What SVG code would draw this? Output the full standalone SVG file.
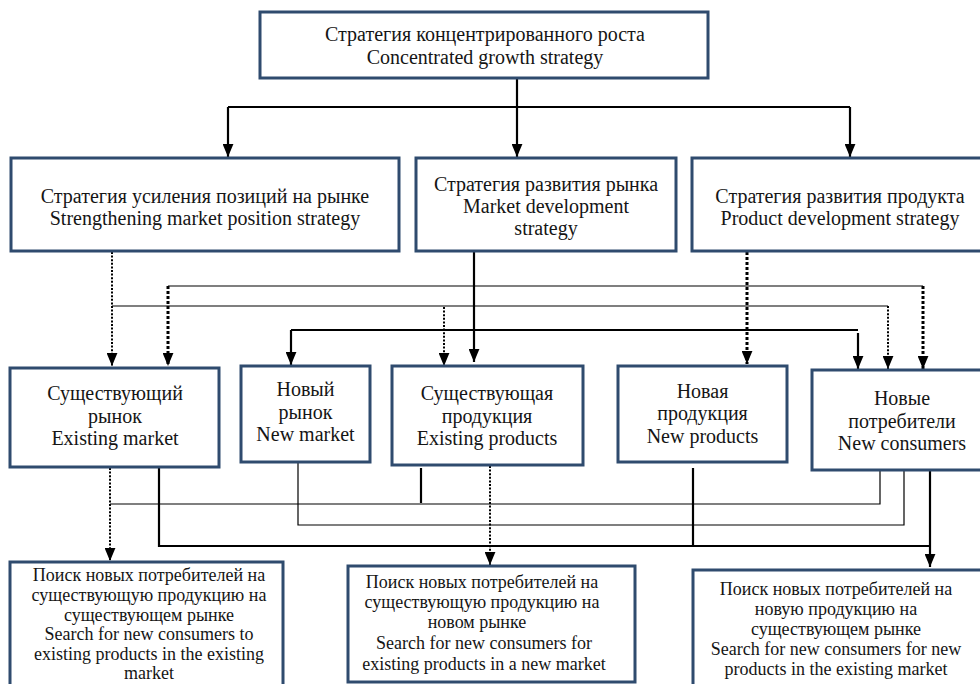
<svg xmlns="http://www.w3.org/2000/svg" width="980" height="684" viewBox="0 0 980 684">
<defs>
<style>
.box{fill:#fff;stroke:#2f4b6e;stroke-width:3}
.t{font-family:"Liberation Serif","Times New Roman",serif;font-size:20px;fill:#151515;text-anchor:middle}
.s{font-family:"Liberation Serif","Times New Roman",serif;font-size:18px;fill:#151515;text-anchor:middle}
.ln{fill:none;stroke:#000}
.thick{stroke-width:2.2}
.thin{stroke-width:1.2}
.dot{stroke-width:2;stroke-dasharray:2 1.6}
.dotb{stroke-width:3;stroke-dasharray:3 2}
</style>
<marker id="ah" viewBox="0 0 12 10" refX="12" refY="5" markerWidth="13" markerHeight="11" markerUnits="userSpaceOnUse" orient="auto">
<path d="M0,0 L12,5 L0,10 z" fill="#000"/>
</marker>
</defs>
<rect width="980" height="684" fill="#fff"/>

<g id="connectors">
<path class="ln thick" d="M517,78 V157" marker-end="url(#ah)"/>
<path class="ln thick" d="M228,107 H850"/>
<path class="ln thick" d="M228,107 V157" marker-end="url(#ah)"/>
<path class="ln thick" d="M850,107 V157" marker-end="url(#ah)"/>

<path class="ln dot" d="M112,252 V366" marker-end="url(#ah)"/>
<path class="ln thin" d="M112,306 H888"/>
<path class="ln dot" d="M888,306 V369" marker-end="url(#ah)"/>
<path class="ln dot" d="M444,307 V366" marker-end="url(#ah)"/>
<path class="ln thin" d="M168,286 H923"/>
<path class="ln dotb" d="M168,286 V366" marker-end="url(#ah)"/>
<path class="ln dotb" d="M923,286 V369" marker-end="url(#ah)"/>
<path class="ln thick" d="M474,252 V362" marker-end="url(#ah)"/>
<path class="ln thick" d="M291,330 H858"/>
<path class="ln thick" d="M291,330 V365" marker-end="url(#ah)"/>
<path class="ln thick" d="M858,333 V369" marker-end="url(#ah)"/>
<path class="ln dotb" d="M747,252 V364" marker-end="url(#ah)"/>

<path class="ln dot" d="M110,468 V561" marker-end="url(#ah)"/>
<path class="ln thin" d="M110,504 H880 V471"/>
<path class="ln thick" d="M159,468 V546 H930"/>
<path class="ln thick" d="M930,471 V567" marker-end="url(#ah)"/>
<path class="ln thin" d="M298,463 V525 H904 V471"/>
<path class="ln thick" d="M421,468 V503"/>
<path class="ln dot" d="M490,466 V565" marker-end="url(#ah)"/>
<path class="ln thick" d="M693,468 V546"/>
</g>

<g id="n-top">
<rect class="box" x="260" y="12" width="448" height="66"/>
<text class="t" x="485" y="41">Стратегия концентрированного роста</text>
<text class="t" x="485" y="64">Concentrated growth strategy</text>
</g>

<g id="n-position">
<rect class="box" x="11" y="158" width="388" height="93"/>
<text class="t" x="205" y="203">Стратегия усиления позиций на рынке</text>
<text class="t" x="205" y="225">Strengthening market position strategy</text>
</g>

<g id="n-market-dev">
<rect class="box" x="416" y="158" width="260" height="93"/>
<text class="t" x="546" y="191">Стратегия развития рынка</text>
<text class="t" x="546" y="213">Market development</text>
<text class="t" x="546" y="235">strategy</text>
</g>

<g id="n-product-dev">
<rect class="box" x="692" y="158" width="296" height="93"/>
<text class="t" x="840" y="203">Стратегия развития продукта</text>
<text class="t" x="840" y="225">Product development strategy</text>
</g>

<g id="n-existing-market">
<rect class="box" x="10" y="368" width="209" height="99"/>
<text class="t" x="115" y="400">Существующий</text>
<text class="t" x="115" y="422.5">рынок</text>
<text class="t" x="115" y="445">Existing market</text>
</g>

<g id="n-new-market">
<rect class="box" x="241" y="366" width="129" height="96"/>
<text class="t" x="305.5" y="396">Новый</text>
<text class="t" x="305.5" y="418.5">рынок</text>
<text class="t" x="305.5" y="441">New market</text>
</g>

<g id="n-existing-products">
<rect class="box" x="392" y="366" width="191" height="99"/>
<text class="t" x="487" y="400">Существующая</text>
<text class="t" x="487" y="422.5">продукция</text>
<text class="t" x="487" y="445">Existing products</text>
</g>

<g id="n-new-products">
<rect class="box" x="618" y="366" width="169" height="96"/>
<text class="t" x="702.5" y="398">Новая</text>
<text class="t" x="702.5" y="420">продукция</text>
<text class="t" x="702.5" y="442.5">New products</text>
</g>

<g id="n-new-consumers">
<rect class="box" x="812" y="370" width="180" height="100"/>
<text class="t" x="902" y="405">Новые</text>
<text class="t" x="902" y="427.5">потребители</text>
<text class="t" x="902" y="450">New consumers</text>
</g>

<g id="n-search-1">
<rect class="box" x="10" y="562" width="273" height="140"/>
<text class="s" x="149" y="581">Поиск новых потребителей на</text>
<text class="s" x="149" y="601">существующую продукцию на</text>
<text class="s" x="149" y="620.5">существующем рынке</text>
<text class="s" x="149" y="640">Search for new consumers to</text>
<text class="s" x="149" y="660">existing products in the existing</text>
<text class="s" x="149" y="679">market</text>
</g>

<g id="n-search-2">
<rect class="box" x="348" y="566" width="287" height="116"/>
<text class="s" x="482" y="588">Поиск новых потребителей на</text>
<text class="s" x="482" y="608">существующую продукцию на</text>
<text class="s" x="477" y="628">новом рынке</text>
<text class="s" x="484" y="649">Search for new consumers for</text>
<text class="s" x="484" y="670">existing products in a new market</text>
</g>

<g id="n-search-3">
<rect class="box" x="693" y="570" width="290" height="130"/>
<text class="s" x="836" y="595">Поиск новых потребителей на</text>
<text class="s" x="836" y="615">новую продукцию на</text>
<text class="s" x="836" y="635">существующем рынке</text>
<text class="s" x="836" y="655">Search for new consumers for new</text>
<text class="s" x="836" y="675">products in the existing market</text>
</g>
</svg>
